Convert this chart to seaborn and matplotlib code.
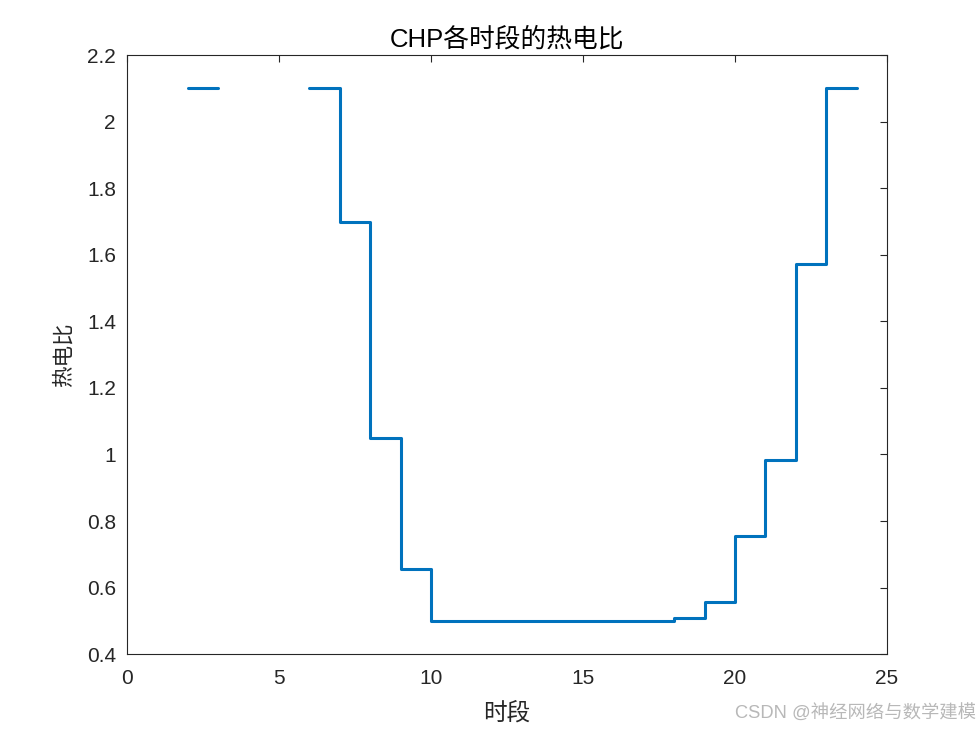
import numpy as np
import pandas as pd
import matplotlib
matplotlib.use("Agg")
import matplotlib.pyplot as plt
import seaborn as sns

hours = list(range(1, 25))
ratio = [np.nan, 2.1, np.nan, np.nan, np.nan, 2.1, 1.7, 1.05, 0.655, 0.5,
         0.5, 0.5, 0.5, 0.5, 0.5, 0.5, 0.5, 0.508, 0.558, 0.755,
         0.982, 1.572, 2.1, 2.1]
xticks = [0, 5, 10, 15, 20, 25]
yticks = [0.4, 0.6, 0.8, 1.0, 1.2, 1.4, 1.6, 1.8, 2.0, 2.2]
ytick_labels = ["0.4", "0.6", "0.8", "1", "1.2", "1.4", "1.6", "1.8", "2", "2.2"]

# build stair segments (contiguous runs); a run followed by NaN extends one step
rows = []
seg = 0
prev_nan = True
for i, (h, v) in enumerate(zip(hours, ratio)):
    if np.isnan(v):
        if not prev_nan:
            rows.append((h, ratio[i - 1], seg))
            seg += 1
        prev_nan = True
        continue
    rows.append((h, v, seg))
    prev_nan = False
df = pd.DataFrame(rows, columns=["hour", "ratio", "seg"])

sns.set_style("white")
plt.rcParams['font.family'] = ['Liberation Sans', 'Noto Sans CJK SC', 'DejaVu Sans']

fig = plt.figure(figsize=(9.8, 7.35), dpi=100)
ax = fig.add_axes([0.1296, 0.110, 0.7755, 0.815])

sns.lineplot(data=df, x="hour", y="ratio", units="seg", estimator=None,
             drawstyle="steps-post", color="#0072BD", linewidth=2.2, ax=ax)

ax.set_xlim(0, 25)
ax.set_ylim(0.4, 2.2)
ax.set_xticks(xticks)
ax.set_xticklabels([str(t) for t in xticks])
ax.set_yticks(yticks)
ax.set_yticklabels(ytick_labels)
ax.tick_params(axis="both", direction="in", top=True, right=True, length=5,
               width=0.8, labelsize=15, colors="#262626")
ax.tick_params(axis="x", pad=11)
ax.tick_params(axis="y", pad=8)
for sp in ax.spines.values():
    sp.set_visible(True)
    sp.set_color("#262626")
    sp.set_linewidth(0.8)

ax.set_xlabel("时段", fontsize=17, color="#262626", labelpad=10,
              fontweight="light")
ax.set_ylabel("热电比", fontsize=15.5, color="#262626", labelpad=9,
              fontweight="light")
ax.set_title("CHP各时段的热电比", fontsize=18.5, color="#000000", pad=6,
             fontweight="light")

fig.text(0.996, 0.016, "CSDN @神经网络与数学建模", ha="right", va="bottom",
         fontsize=13.2, color="#b8b8b8", fontweight="light")

fig.savefig("out.png", dpi=100, facecolor="white")
